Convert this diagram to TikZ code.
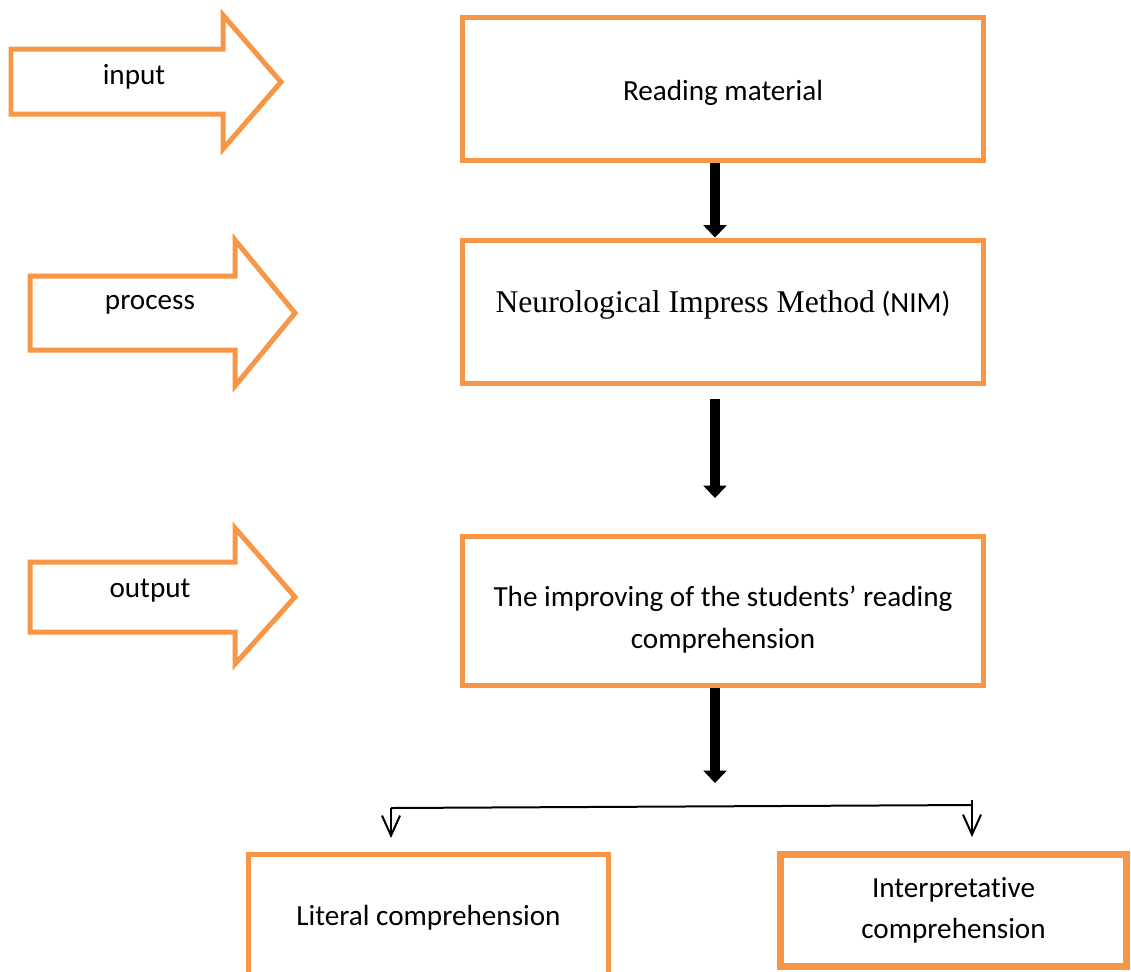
\documentclass[tikz,border=0pt]{standalone}
\usepackage{fontspec}
\setmainfont{Carlito}[Ligatures=NoCommon]
\newfontfamily\timesfont{Liberation Serif}
\usetikzlibrary{positioning,arrows.meta,calc}
\definecolor{tangerine}{RGB}{247,150,70}

\begin{document}
\begin{tikzpicture}[x=0.02cm,y=-0.02cm,
    box/.style={draw=tangerine,line width=0.1cm,align=center,inner sep=0pt,
        font=\fontsize{16.6}{23.5}\selectfont,minimum width=10.44cm,minimum height=2.88cm},
    side/.style={draw=tangerine,line width=0.1cm},
    lbl/.style={font=\fontsize{16.6}{23.5}\selectfont},
    bigarr/.style={line width=0.2cm,-{Triangle[length=0.25cm,width=0.46cm]}},
    thinarr/.style={line width=0.04cm,-{Straight Barb[length=0.4cm,width=0.36cm]}}]
    \useasboundingbox (0,0) rectangle (1131,971);
    % input / process / output arrows on the left
    \draw[side] (11,49) -- (223,49) -- (223,15) -- (281,82) -- (223,149) -- (223,114) -- (11,114) -- cycle;
    \draw[side] (30,276) -- (235,276) -- (235,240) -- (295,313) -- (235,386) -- (235,350) -- (30,350) -- cycle;
    \draw[side] (30,562) -- (235,562) -- (235,528) -- (295,597) -- (235,664) -- (235,632) -- (30,632) -- cycle;
    \node[lbl] (inp) at (134,77) {input};
    \node[lbl] (proc) at (150,305) {process};
    \node[lbl] (outp) at (150,591) {output};
    % main column
    \node[box,text height=16.5pt] (read) at (723,89) {Reading material};
    \node[box,text depth=12pt] (nim) at (723,312)
        {{\timesfont\fontsize{18}{24}\selectfont Neurological Impress Method} (NIM)};
    \node[box,minimum height=2.98cm,text height=45.5pt] (impr) at (723,610.5)
        {The improving of the students’ reading\\comprehension};
    \node[box,minimum width=7.22cm,minimum height=2.56cm] (lit) at (428.5,918) {Literal comprehension};
    \node[box,line width=0.14cm,minimum width=6.94cm,minimum height=2.24cm] (interp) at (953.5,910)
        {Interpretative\\comprehension};
    \coordinate (spine) at (715,0);
    \coordinate (split) at (715,783);
    \coordinate (bl) at (391,808);
    \coordinate (br) at (972,805);
    \draw[bigarr] (read.south -| spine) -- (nim.north -| spine);
    \draw[bigarr,shorten <=0.25cm,shorten >=0.71cm] (nim.south -| spine) -- (impr.north -| spine);
    \draw[bigarr] (impr.south -| spine) -- (split);
    % branches
    \draw[line width=0.04cm] (bl) -- (br);
    \draw[thinarr,shorten >=0.27cm] (bl) -- (bl |- lit.north);
    \draw[thinarr,shorten >=0.27cm] ([yshift=0.1cm]br) -- (br |- interp.north);
  \end{tikzpicture}
\end{document}
